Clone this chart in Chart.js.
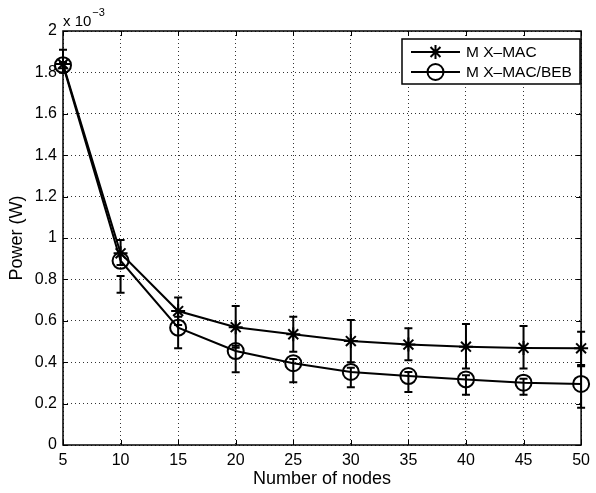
<!DOCTYPE html>
<html>
<head>
<meta charset="utf-8">
<script src="https://cdn.jsdelivr.net/npm/chart.js@4/dist/chart.umd.min.js"></script>
<style>
  body { margin: 0; background: #fff; }
  #wrap { width: 596px; height: 493px; }
</style>
</head>
<body>
<div id="wrap"><canvas id="powerChart" width="596" height="493"></canvas></div>
<script>
// power values in units of 1e-3 W
const nodes = [5, 10, 15, 20, 25, 30, 35, 40, 45, 50];
const mxmacPower = [1.84, 0.926, 0.647, 0.569, 0.535, 0.502, 0.485, 0.475, 0.469, 0.467];
const mxmacLow   = [1.80, 0.87, 0.58, 0.47, 0.45, 0.40, 0.41, 0.37, 0.37, 0.387];
const mxmacHigh  = [1.91, 0.99, 0.712, 0.671, 0.62, 0.604, 0.564, 0.585, 0.575, 0.547];
const bebPower = [1.835, 0.89, 0.567, 0.454, 0.395, 0.353, 0.333, 0.317, 0.301, 0.295];
const bebLow   = [1.82, 0.736, 0.467, 0.351, 0.303, 0.279, 0.256, 0.243, 0.243, 0.18];
const bebHigh  = [1.85, 0.816, 0.62, 0.48, 0.415, 0.373, 0.353, 0.337, 0.32, 0.38];
const seriesNames = ['M X\u2013MAC', 'M X\u2013MAC/BEB'];
const xTitle = 'Number of nodes';
const yTitle = 'Power (W)';
const FONT = '"Liberation Sans", Arial, Helvetica, sans-serif';

let toPoints = (ys) => nodes.map((n, i) => ({ x: n, y: ys[i] }));

let errorBars = [
  { low: mxmacLow, high: mxmacHigh },
  { low: bebLow, high: bebHigh }
];

let drawMarker = (ctx, style, x, y, r) => {
  ctx.beginPath();
  if (style === 'star') {
    let d = r * Math.SQRT1_2;
    ctx.moveTo(x - r, y); ctx.lineTo(x + r, y);
    ctx.moveTo(x, y - r); ctx.lineTo(x, y + r);
    ctx.moveTo(x - d, y - d); ctx.lineTo(x + d, y + d);
    ctx.moveTo(x - d, y + d); ctx.lineTo(x + d, y - d);
  } else {
    ctx.arc(x, y, r, 0, Math.PI * 2);
  }
  ctx.stroke();
};

const matlabAxes = {
  id: 'matlabAxes',
  afterDatasetsDraw(chart) {
    let ctx = chart.ctx, xs = chart.scales.x, ys = chart.scales.y;
    ctx.save();
    ctx.strokeStyle = '#000';
    ctx.lineWidth = 2;
    errorBars.forEach((eb) => {
      nodes.forEach((n, i) => {
        let px = xs.getPixelForValue(n),
            top = ys.getPixelForValue(eb.high[i]),
            bot = ys.getPixelForValue(eb.low[i]);
        ctx.beginPath();
        ctx.moveTo(px, top); ctx.lineTo(px, bot);
        ctx.moveTo(px - 4, top); ctx.lineTo(px + 4, top);
        ctx.moveTo(px - 4, bot); ctx.lineTo(px + 4, bot);
        ctx.stroke();
      });
    });
    ctx.restore();
  },
  afterDraw(chart) {
    let ctx = chart.ctx, a = chart.chartArea, xs = chart.scales.x, ys = chart.scales.y;
    ctx.save();
    // box
    ctx.strokeStyle = '#000';
    ctx.lineWidth = 1.5;
    ctx.strokeRect(a.left, a.top, a.right - a.left, a.bottom - a.top);
    // inward ticks
    ctx.lineWidth = 1;
    ctx.beginPath();
    xs.ticks.forEach((t) => {
      let px = Math.round(xs.getPixelForValue(t.value)) + 0.5;
      ctx.moveTo(px, a.bottom); ctx.lineTo(px, a.bottom - 5);
      ctx.moveTo(px, a.top); ctx.lineTo(px, a.top + 5);
    });
    ys.ticks.forEach((t) => {
      let py = Math.round(ys.getPixelForValue(t.value)) + 0.5;
      ctx.moveTo(a.left, py); ctx.lineTo(a.left + 5, py);
      ctx.moveTo(a.right, py); ctx.lineTo(a.right - 5, py);
    });
    ctx.stroke();
    // exponent label
    ctx.fillStyle = '#000';
    ctx.textBaseline = 'alphabetic';
    ctx.font = '15px ' + FONT;
    ctx.fillText('x 10', a.left, 26);
    let w = ctx.measureText('x 10').width;
    ctx.font = '11px ' + FONT;
    ctx.fillText('\u22123', a.left + w + 1, 16);
    // legend
    let lx = 402, ly = 39, lw = 178, lh = 45;
    ctx.fillStyle = '#fff';
    ctx.fillRect(lx, ly, lw, lh);
    ctx.lineWidth = 1.5;
    ctx.strokeRect(lx, ly, lw, lh);
    chart.data.datasets.forEach((ds, i) => {
      let ry = ly + 13 + i * 20;
      ctx.strokeStyle = '#000';
      ctx.lineWidth = 2;
      ctx.beginPath();
      ctx.moveTo(lx + 9, ry); ctx.lineTo(lx + 58, ry);
      ctx.stroke();
      drawMarker(ctx, ds.pointStyle, lx + 33.5, ry, ds.pointRadius);
      ctx.fillStyle = '#000';
      ctx.font = '15.5px ' + FONT;
      ctx.textBaseline = 'middle';
      ctx.fillText(ds.label, lx + 64, ry + 1);
    });
    ctx.restore();
  }
};

new Chart(document.getElementById('powerChart'), {
  type: 'line',
  data: {
    datasets: [
      {
        label: seriesNames[0],
        data: toPoints(mxmacPower),
        borderColor: '#000',
        borderWidth: 2,
        pointStyle: 'star',
        pointRadius: 7,
        pointBorderWidth: 2,
        pointBorderColor: '#000',
        pointBackgroundColor: 'rgba(0,0,0,0)',
        tension: 0,
        clip: false
      },
      {
        label: seriesNames[1],
        data: toPoints(bebPower),
        borderColor: '#000',
        borderWidth: 2,
        pointStyle: 'circle',
        pointRadius: 8,
        pointBorderWidth: 2,
        pointBorderColor: '#000',
        pointBackgroundColor: 'rgba(0,0,0,0)',
        tension: 0,
        clip: false
      }
    ]
  },
  options: {
    responsive: false,
    animation: false,
    layout: { padding: { top: 31, right: 9, left: 0, bottom: 0 } },
    plugins: { legend: { display: false }, tooltip: { enabled: false } },
    scales: {
      x: {
        type: 'linear',
        min: 5,
        max: 50,
        afterFit: (s) => { s.height = 48; },
        ticks: { stepSize: 5, color: '#000', padding: 6, maxRotation: 0, font: { family: FONT, size: 16 } },
        grid: { color: '#333', lineWidth: 1, drawTicks: false },
        border: { display: false, dash: [1, 3] },
        title: { display: true, text: xTitle, color: '#000', padding: { top: 0, bottom: 3 }, font: { family: FONT, size: 18 } }
      },
      y: {
        min: 0,
        max: 2,
        afterFit: (s) => { s.width = 63; },
        ticks: {
          stepSize: 0.2, color: '#000', padding: 6, font: { family: FONT, size: 16 },
          callback: (v) => String(Number(v.toFixed(1)))
        },
        grid: { color: '#333', lineWidth: 1, drawTicks: false },
        border: { display: false, dash: [1, 3] },
        title: { display: true, text: yTitle, color: '#000', padding: { top: 6, bottom: 0 }, font: { family: FONT, size: 18 } }
      }
    }
  },
  plugins: [matlabAxes]
});
</script>
</body>
</html>
